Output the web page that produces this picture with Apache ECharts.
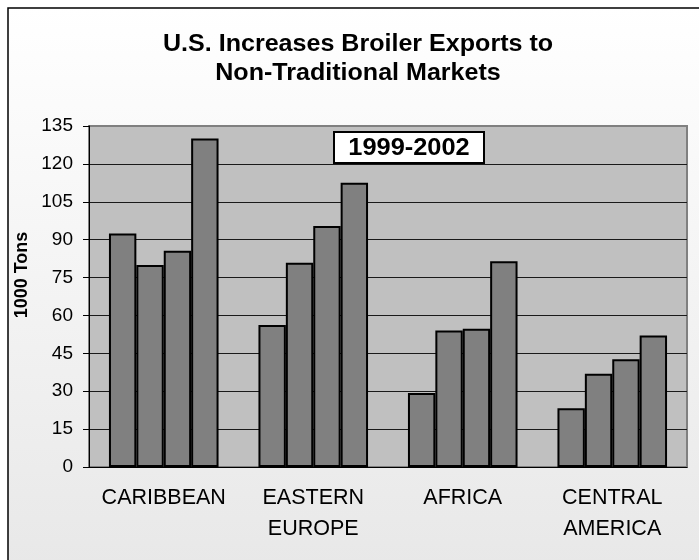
<!DOCTYPE html>
<html>
<head>
<meta charset="utf-8">
<script src="https://cdn.jsdelivr.net/npm/echarts@6/dist/echarts.min.js"></script>
<style>
  html, body { margin: 0; padding: 0; background: #ffffff; }
  #chart { width: 699px; height: 560px; }
</style>
</head>
<body>
<div id="chart"></div>
<script>
// Broiler exports by market, 1000 tons
const regions = ['CARIBBEAN', 'EASTERN\nEUROPE', 'AFRICA', 'CENTRAL\nAMERICA'];
const years = ['1999', '2000', '2001', '2002'];
const exports1999 = [92.4, 56.2, 29.3, 23.3];
const exports2000 = [80.0, 80.9, 54.0, 36.9];
const exports2001 = [85.6, 95.4, 54.7, 42.7];
const exports2002 = [130.1, 112.5, 81.5, 52.1];
const yTicks = { min: 0, max: 135, step: 15 };

const FONT = '"Liberation Sans", Arial, sans-serif';
const seriesValues = [exports1999, exports2000, exports2001, exports2002];

const chart = echarts.init(document.getElementById('chart'), null, { renderer: 'canvas' });

chart.setOption({
  backgroundColor: '#ffffff',
  animation: false,
  graphic: [
    {
      // outer chart frame with soft vertical shading
      type: 'rect',
      z: -10,
      silent: true,
      shape: { x: 8, y: 8, width: 760, height: 620 },
      style: {
        fill: {
          type: 'linear', x: 0, y: 0, x2: 0, y2: 1,
          colorStops: [
            { offset: 0, color: '#ffffff' },
            { offset: 0.9, color: '#e8e8e8' },
            { offset: 1, color: '#e6e6e6' }
          ]
        },
        stroke: '#000000',
        lineWidth: 1.5
      }
    },
    {
      // chart title, set in a wide bold face
      type: 'text',
      silent: true,
      x: 358,
      y: 59,
      scaleX: 1.09,
      style: {
        text: 'U.S. Increases Broiler Exports to\nNon-Traditional Markets',
        fontFamily: FONT,
        fontWeight: 'bold',
        fontSize: 23,
        lineHeight: 29,
        fill: '#000000',
        align: 'center',
        verticalAlign: 'middle'
      }
    },
    {
      type: 'text',
      silent: true,
      x: 22,
      y: 275,
      rotation: Math.PI / 2,
      style: {
        text: '1000 Tons',
        fontFamily: FONT,
        fontWeight: 'bold',
        fontSize: 18,
        fill: '#000000',
        align: 'center',
        verticalAlign: 'middle'
      }
    },
    {
      type: 'group',
      z: 100,
      children: [
        {
          type: 'rect',
          shape: { x: 334, y: 132, width: 150, height: 31 },
          style: { fill: '#ffffff', stroke: '#000000', lineWidth: 2 }
        },
        {
          type: 'text',
          x: 409,
          y: 148.5,
          scaleX: 1.08,
          style: {
            text: years[0] + '-' + years[years.length - 1],
            fontFamily: FONT,
            fontWeight: 'bold',
            fontSize: 23.5,
            fill: '#000000',
            align: 'center',
            verticalAlign: 'middle'
          }
        }
      ]
    }
  ],
  grid: {
    left: 89,
    right: 12,
    top: 126,
    bottom: 93,
    show: true,
    backgroundColor: '#c0c0c0',
    borderColor: '#808080',
    borderWidth: 2
  },
  xAxis: {
    type: 'category',
    data: regions,
    axisLine: { show: true, lineStyle: { color: '#000000', width: 1 } },
    axisTick: { show: false },
    axisLabel: {
      fontFamily: FONT,
      fontSize: 21.5,
      lineHeight: 31,
      color: '#000000',
      margin: 16,
      interval: 0
    },
    splitLine: { show: false }
  },
  yAxis: {
    type: 'value',
    min: yTicks.min,
    max: yTicks.max,
    interval: yTicks.step,
    axisLine: { show: true, lineStyle: { color: '#000000', width: 1 } },
    axisTick: { show: true, length: 6, lineStyle: { color: '#000000', width: 1 } },
    axisLabel: {
      fontFamily: FONT,
      fontSize: 19,
      color: '#000000',
      margin: 16,
      padding: [3, 0, 0, 0]
    },
    splitLine: {
      show: true,
      showMinLine: false,
      showMaxLine: false,
      lineStyle: { color: '#1a1a1a', width: 1 }
    }
  },
  series: seriesValues.map((vals, i) => ({
    name: years[i],
    type: 'bar',
    data: vals,
    barGap: '0%',
    barCategoryGap: '26.7%',
    itemStyle: {
      color: '#808080',
      borderColor: '#000000',
      borderWidth: 2
    }
  }))
});
</script>
</body>
</html>
